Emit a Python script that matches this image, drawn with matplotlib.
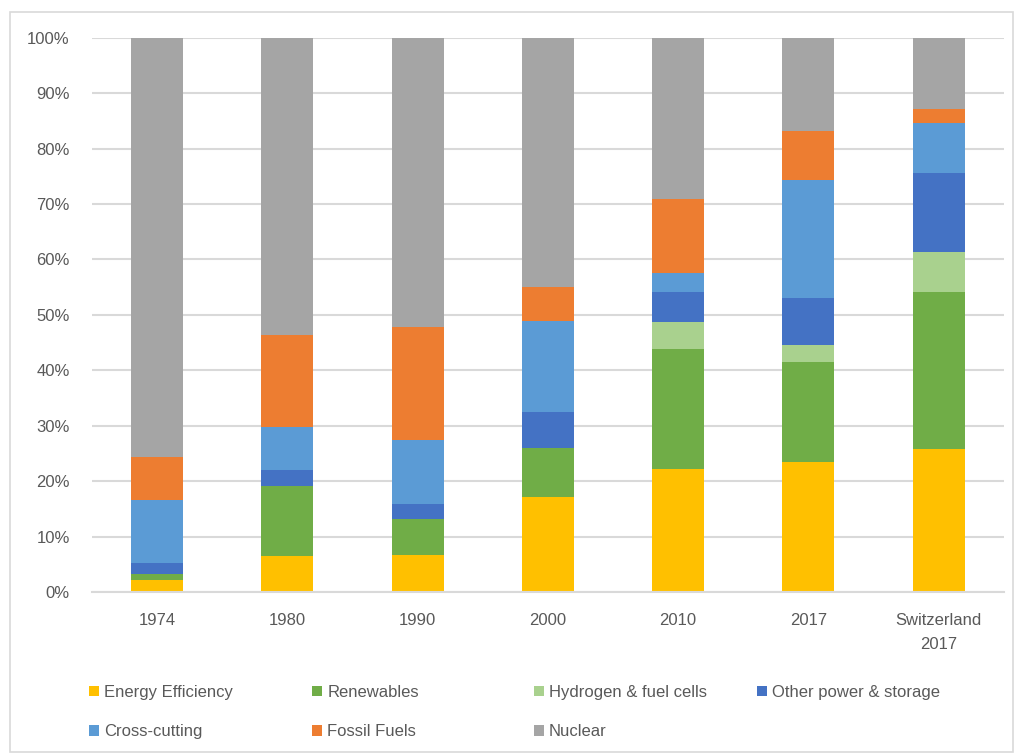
import matplotlib.pyplot as plt
import matplotlib.patches as mpatches
import numpy as np

plt.rcParams['font.family'] = ['Liberation Sans', 'DejaVu Sans']

# share of public energy RD&D budget by technology (%)
years = ['1974', '1980', '1990', '2000', '2010', '2017', 'Switzerland\n2017']
energy_eff = [2.2, 6.4, 6.7, 17.1, 22.2, 23.5, 25.8]
renewables = [1.0, 12.8, 6.5, 8.8, 21.6, 18.0, 28.3]
hydrogen = [0.0, 0.0, 0.0, 0.0, 5.0, 3.1, 7.3]
other_power = [2.0, 2.8, 2.7, 6.5, 5.3, 8.5, 14.2]
cross_cutting = [11.4, 7.7, 11.6, 16.5, 3.4, 21.3, 9.1]
fossil = [7.7, 16.6, 20.3, 6.2, 13.4, 8.8, 2.5]
nuclear = [75.7, 53.7, 52.2, 44.9, 29.1, 16.8, 12.8]

series = [
    ('Energy Efficiency', energy_eff, '#FFC000'),
    ('Renewables', renewables, '#70AD47'),
    ('Hydrogen & fuel cells', hydrogen, '#A9D18E'),
    ('Other power & storage', other_power, '#4472C4'),
    ('Cross-cutting', cross_cutting, '#5B9BD5'),
    ('Fossil Fuels', fossil, '#ED7D31'),
    ('Nuclear', nuclear, '#A5A5A5'),
]

txt = '#595959'
grid = '#D9D9D9'

fig = plt.figure(figsize=(10.17, 7.56), dpi=100)
ax = fig.add_axes([0.0905, 0.217, 0.8965, 0.733])

x = np.arange(len(years))
bottom = np.zeros(len(years))
handles = []
for name, vals, col in series:
    vals = np.array(vals)
    b = ax.bar(x, vals, 0.4, bottom=bottom, color=col, label=name, zorder=3)
    bottom += vals
    handles.append(b)

ax.set_xlim(-0.5, len(years) - 0.5)
ax.set_ylim(0, 100)
ax.set_yticks(np.arange(0, 101, 10))
ax.set_yticklabels(['%d%%' % v for v in range(0, 101, 10)])
ax.set_xticks(x)
ax.set_xticklabels(years, linespacing=1.75)
ax.tick_params(axis='both', length=0, colors=txt, labelsize=12)
ax.tick_params(axis='x', pad=15)
ax.tick_params(axis='y', pad=16)
ax.grid(axis='y', color=grid, linewidth=1.5, zorder=0)
for s in ['top', 'right', 'left']:
    ax.spines[s].set_visible(False)
ax.spines['bottom'].set_color(grid)
ax.spines['bottom'].set_linewidth(1.5)
ax.spines['bottom'].set_zorder(4)

# legend: four evenly spaced columns, two rows
col_x = [0.079, 0.299, 0.517, 0.736]
for i, cx in enumerate(col_x):
    hs = [handles[j] for j in (i, i + 4) if j < len(handles)]
    lg = fig.legend(hs, [h.get_label() for h in hs], loc='upper left',
                    bbox_to_anchor=(cx, 0.105), frameon=False, ncol=1,
                    fontsize=12, handlelength=0.6, handleheight=0.6,
                    handletextpad=0.3, labelspacing=1.45, borderpad=0)
    for t in lg.get_texts():
        t.set_color(txt)

# chart area border
fig.patches.append(mpatches.Rectangle((10 / 1017, 4 / 756), 1003 / 1017, 740 / 756,
                                      transform=fig.transFigure, fill=False,
                                      edgecolor=grid, linewidth=1.2))

fig.savefig('out.png', dpi=100)
